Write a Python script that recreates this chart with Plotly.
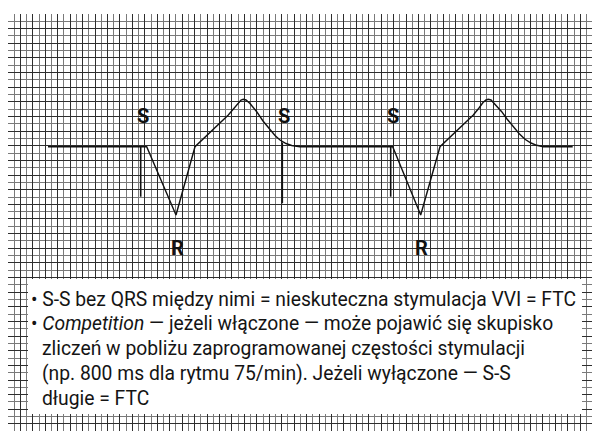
import plotly.graph_objects as go

# ---- data (horizontal position, vertical position measured downward) ----
ecg_x = [48, 146.7, 176, 195, 228.3, 234, 238, 241, 243.3, 246, 250, 256.7, 263, 270, 275, 280, 286, 291.7, 300,
         392.7, 420.7, 440, 473.3, 479, 483, 486, 488.3, 491, 495, 501.7, 507, 513.3, 519, 525, 531, 536.7, 543.3, 572.7]
ecg_y = [146.7, 146.7, 215, 146.7, 115, 108, 102.5, 100, 99.3, 100, 103.5, 111.7, 121, 130, 135.5, 140, 143.5, 145.5, 146.7,
         146.7, 215, 146.7, 115, 108, 102.5, 100, 99.3, 100, 104, 111.7, 119, 126.7, 133.5, 139.3, 143, 145.3, 146.7, 146.7]

stim_x = [140.7, 282.3, 390.7]
stim_top = [146.7, 142.5, 146.7]
stim_bottom = [196.7, 203.3, 196.7]

r_x = [176, 420.7]
r_y = [215, 215]

stim_labels = ["S", "S", "S"]
r_labels = ["R", "R"]

text_lines = [
    "• S-S bez QRS między nimi = nieskuteczna stymulacja VVI = FTC",
    "• <i>Competition</i> — jeżeli włączone — może pojawić się skupisko",
    "zliczeń w pobliżu zaprogramowanej częstości stymulacji",
    "(np. 800 ms dla rytmu 75/min). Jeżeli wyłączone — S-S",
    "długie = FTC",
]
line_indent = [False, False, True, True, True]

FONT = "Roboto, Liberation Sans, Arial, sans-serif"

fig = go.Figure()

# stimulus spikes
sx, sy = [], []
for x, t, b in zip(stim_x, stim_top, stim_bottom):
    sx += [x, x, None]
    sy += [t, b, None]
fig.add_trace(go.Scatter(x=sx, y=sy, mode="lines", line=dict(color="#111111", width=1.6),
                         hoverinfo="skip", showlegend=False))
fig.add_trace(go.Scatter(x=ecg_x, y=ecg_y, mode="lines", line=dict(color="#111111", width=1.4),
                         hoverinfo="skip", showlegend=False))

annotations = []
for x, lab in zip(stim_x, stim_labels):
    annotations.append(dict(x=x + 2, y=115.5, xref="x", yref="y", text=f"<b>{lab}</b>", showarrow=False,
                            font=dict(family=FONT, size=20, color="#111111"),
                            xanchor="center", yanchor="middle"))
for x, lab in zip(r_x, r_labels):
    annotations.append(dict(x=x + 1, y=247.5, xref="x", yref="y", text=f"<b>{lab}</b>", showarrow=False,
                            font=dict(family=FONT, size=20, color="#111111"),
                            xanchor="center", yanchor="middle"))

y0 = 299.0
pitch = 24.9
for i, (line, ind) in enumerate(zip(text_lines, line_indent)):
    annotations.append(dict(x=40 if ind else 29, y=y0 + i * pitch, xref="x", yref="y", text=line,
                            showarrow=False, font=dict(family=FONT, size=19.3, color="#141414"),
                            xanchor="left", yanchor="middle"))

shapes = [dict(type="rect", xref="x", yref="y", x0=28, x1=582, y0=279, y1=414,
               fillcolor="white", line=dict(width=0), layer="above")]

fig.update_layout(
    width=600, height=435,
    margin=dict(l=0, r=15, t=6, b=12),
    paper_bgcolor="white", plot_bgcolor="white",
    annotations=annotations, shapes=shapes,
    xaxis=dict(range=[8, 593], tick0=8, dtick=12.44, showgrid=True, gridcolor="#2e2e2e", gridwidth=1,
               zeroline=False, showticklabels=False, ticks="", fixedrange=True,
               minor=dict(tick0=8, dtick=6.22, showgrid=True, gridcolor="#7a7a7a", gridwidth=1)),
    yaxis=dict(range=[431, 14], tick0=14, dtick=14.64, showgrid=True, gridcolor="#2e2e2e", gridwidth=1,
               zeroline=False, showticklabels=False, ticks="", fixedrange=True,
               minor=dict(tick0=14, dtick=7.32, showgrid=True, gridcolor="#7a7a7a", gridwidth=1)),
)

fig.write_html("out.html")
